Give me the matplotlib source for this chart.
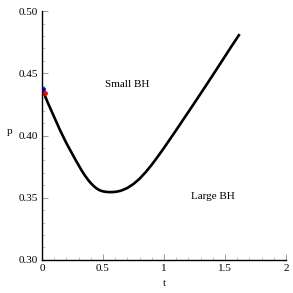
import matplotlib
matplotlib.use("Agg")
import matplotlib.pyplot as plt
from matplotlib.ticker import MultipleLocator

t_vals = [0.00, 0.025, 0.05, 0.075, 0.10, 0.125, 0.15, 0.175, 0.20, 0.225, 0.25, 0.275,
          0.30, 0.325, 0.35, 0.375, 0.40, 0.425, 0.45, 0.475, 0.50, 0.525, 0.55, 0.575,
          0.60, 0.625, 0.65, 0.70, 0.75, 0.80, 0.85, 0.90, 0.95, 1.00, 1.05, 1.10,
          1.15, 1.20, 1.25, 1.30, 1.35, 1.40, 1.45, 1.50, 1.55, 1.62]
p_vals = [0.438, 0.432, 0.426, 0.4205, 0.415, 0.4095, 0.404, 0.399, 0.394, 0.3895, 0.385, 0.3805,
          0.3763, 0.372, 0.3682, 0.3648, 0.3618, 0.3593, 0.3573, 0.3559, 0.3551, 0.3547, 0.3545, 0.3545,
          0.3547, 0.3551, 0.3557, 0.3578, 0.361, 0.3652, 0.3705, 0.3765, 0.3831, 0.3900, 0.3971, 0.4043,
          0.4116, 0.4189, 0.4262, 0.4336, 0.4410, 0.4485, 0.4560, 0.4636, 0.4712, 0.4815]
blue_pt = (0.008, 0.4373)
red_pt = (0.027, 0.4344)
x_ticks = [0, 0.5, 1, 1.5, 2]
x_labels = ["0", "0.5", "1", "1.5", "2"]
y_ticks = [0.30, 0.35, 0.40, 0.45, 0.50]
y_labels = ["0.30", "0.35", "0.40", "0.45", "0.50"]

plt.rcParams['font.family'] = ['Liberation Serif', 'DejaVu Serif']
fig = plt.figure(figsize=(2.93, 2.93), dpi=100)
ax = fig.add_axes([0.143, 0.113, 0.833, 0.849])
ax.plot(t_vals, p_vals, color='black', lw=1.9, solid_capstyle='butt', solid_joinstyle='round')
ax.plot(*blue_pt, 'o', color='blue', ms=3.5, mec='none')
ax.plot(*red_pt, 'o', color='red', ms=3.5, mec='none')
ax.set_xlim(0, 2)
ax.set_ylim(0.30, 0.50)
ax.set_xticks(x_ticks)
ax.set_xticklabels(x_labels)
ax.set_yticks(y_ticks)
ax.set_yticklabels(y_labels)
ax.xaxis.set_minor_locator(MultipleLocator(0.1))
ax.yaxis.set_minor_locator(MultipleLocator(0.01))
for s in ['top', 'right']:
    ax.spines[s].set_visible(False)
for s in ['left', 'bottom']:
    ax.spines[s].set_linewidth(1.0)
ax.tick_params(which='major', direction='in', length=4, width=0.6, color='#888888', labelsize=8, pad=3)
ax.tick_params(which='minor', direction='in', length=2, width=0.5, color='#aaaaaa')
ax.text(0.70, 0.441, "Small BH", fontsize=8, ha='center', va='center')
ax.text(1.40, 0.351, "Large BH", fontsize=8, ha='center', va='center')
fig.text(10/293, 1-131/293, "p", fontsize=8, ha='center', va='center')
fig.text(164/293, 1-283/293, "t", fontsize=8, ha='center', va='center')
fig.savefig("out.png", dpi=100)
